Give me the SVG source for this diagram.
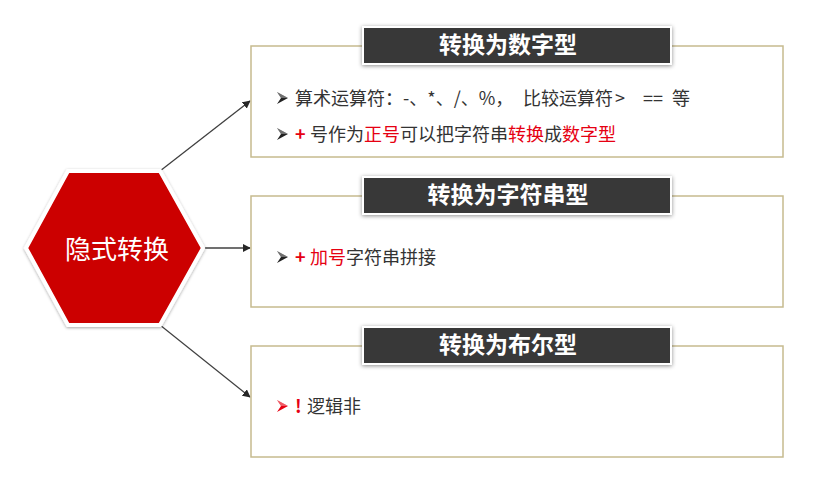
<svg xmlns="http://www.w3.org/2000/svg" width="823" height="478" viewBox="0 0 823 478">
<defs>
<style>
.box{fill:#fff;stroke:#c6bb8e;stroke-width:1.5}
.tbar{fill:#373737;stroke:#fff;stroke-width:2}
.ttl{font-family:"Noto Sans CJK SC","Noto Sans",sans-serif;font-weight:bold;font-size:23px;fill:#fff;text-anchor:middle}
.body{font-family:"Noto Sans CJK SC","Noto Sans",sans-serif;font-size:18px;fill:#333}
.red{fill:#e60012}
.conn{stroke:#404040;stroke-width:1.3;fill:none;marker-end:url(#ah)}
</style>
<marker id="ah" viewBox="0 0 10 10" refX="9" refY="5" markerWidth="8" markerHeight="8" markerUnits="userSpaceOnUse" orient="auto">
<path d="M0,0 L10,5 L0,10 z" fill="#262626"/>
</marker>
<g id="bullet">
<path d="M0,-6 L11,0 L0,6 L4,0 z" fill="currentColor"/>
<path d="M0,-6 L11,0 L4,0 z" fill="#fff" fill-opacity="0.35"/>
</g>
<filter id="sh" x="-20%" y="-40%" width="140%" height="180%">
<feDropShadow dx="0" dy="1" stdDeviation="2.2" flood-color="#000" flood-opacity="0.45"/>
</filter>
<filter id="hsh" x="-20%" y="-20%" width="140%" height="140%">
<feDropShadow dx="0" dy="1" stdDeviation="1.5" flood-color="#000" flood-opacity="0.35"/>
</filter>
</defs>
<rect width="823" height="478" fill="#fff"/>

<g id="connectors">
<line class="conn" x1="160" y1="171" x2="250" y2="101"/>
<line class="conn" x1="203" y1="248" x2="250" y2="248"/>
<line class="conn" x1="160" y1="325" x2="250" y2="397"/>
</g>

<g id="hex">
<polygon points="26,248 68,171 160,171 203,248 160,325 68,325" fill="#cc0000" stroke="#fff" stroke-width="4" stroke-linejoin="miter" filter="url(#hsh)"/>
<text x="117" y="259" font-family="'Noto Sans CJK SC','Noto Sans',sans-serif" font-size="26" fill="#fff" text-anchor="middle">隐式转换</text>
</g>

<g id="box-number">
<rect class="box" x="251" y="46" width="532" height="111"/>
<rect class="tbar" x="363" y="27" width="308" height="37" filter="url(#sh)"/>
<text class="ttl" x="508" y="53">转换为数字型</text>
<use href="#bullet" x="277" y="98" color="#222"/>
<text class="body" x="295" y="105">算术运算符：-、*、/、%，<tspan x="523">比较运算符</tspan><tspan x="615">&gt;</tspan><tspan x="643">==</tspan><tspan x="672">等</tspan></text>
<use href="#bullet" x="277" y="134" color="#222"/>
<text class="body" x="295" y="141"><tspan class="red" font-weight="bold">+</tspan><tspan x="310">号作为</tspan><tspan class="red">正号</tspan>可以把字符串<tspan class="red">转换</tspan>成<tspan class="red">数字型</tspan></text>
</g>

<g id="box-string">
<rect class="box" x="251" y="196" width="532" height="111"/>
<rect class="tbar" x="363" y="177" width="308" height="37" filter="url(#sh)"/>
<text class="ttl" x="508" y="203">转换为字符串型</text>
<use href="#bullet" x="277" y="257" color="#222"/>
<text class="body" x="295" y="264"><tspan class="red" font-weight="bold">+</tspan><tspan class="red" x="310">加号</tspan>字符串拼接</text>
</g>

<g id="box-boolean">
<rect class="box" x="251" y="346" width="532" height="111"/>
<rect class="tbar" x="363" y="327" width="308" height="37" filter="url(#sh)"/>
<text class="ttl" x="508" y="353">转换为布尔型</text>
<use href="#bullet" x="277" y="406" color="#e60012"/>
<text class="body" x="295" y="413"><tspan class="red" font-weight="bold">!</tspan><tspan x="307">逻辑非</tspan></text>
</g>
</svg>
